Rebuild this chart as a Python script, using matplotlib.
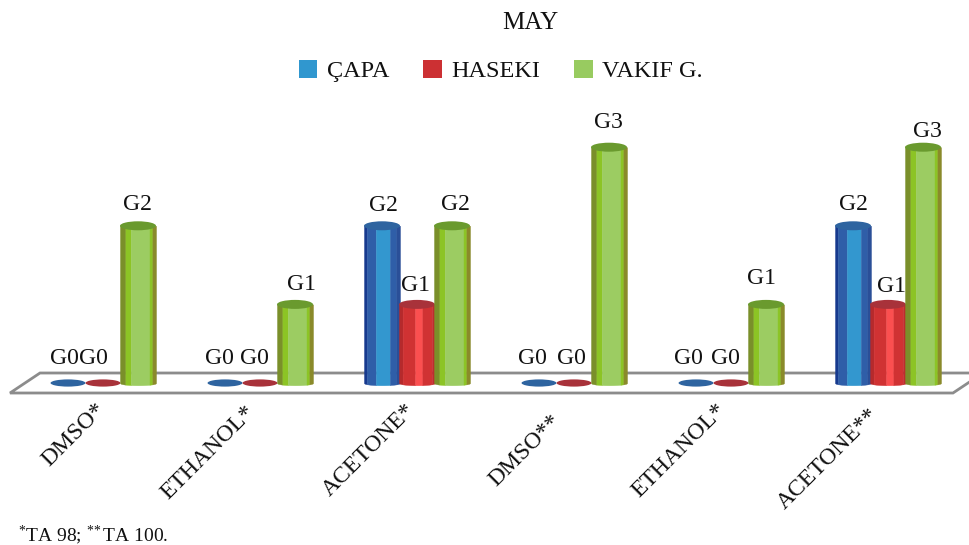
import numpy as np
import matplotlib
matplotlib.use("Agg")
import matplotlib.pyplot as plt
from matplotlib.patches import Ellipse, Patch, Polygon

plt.rcParams["font.family"] = ["Liberation Serif", "DejaVu Serif"]
plt.rcParams["mathtext.fontset"] = "custom"
plt.rcParams["mathtext.rm"] = "Liberation Serif"
plt.rcParams["mathtext.it"] = "Liberation Serif"

categories = ["DMSO*", "ETHANOL*", "ACETONE*", "DMSO**", "ETHANOL*", "ACETONE**"]
series_names = ["ÇAPA", "HASEKI", "VAKIF G."]
capa = [0, 0, 2, 0, 0, 2]
haseki = [0, 0, 1, 0, 0, 1]
vakif = [2, 1, 2, 3, 1, 3]

# 1 category = 157 px, 1 grade = 78.6 px, first HASEKI bar at x=103, grade 0 at y=383
px_x = 157.0
px_y = 78.6
bar_w = 36 / px_x
ell_h = 9 / px_y

# bands across a cylinder: start fraction, end fraction, colour
bands = {
    "ÇAPA": [(0, .08, "#173a8e"), (.08, .33, "#2f5ea8"), (.33, .72, "#3397cf"),
             (.72, .9, "#2f5ea8"), (.9, 1, "#2a4f98")],
    "HASEKI": [(0, .1, "#b52a2c"), (.1, .45, "#d03233"), (.45, .65, "#fb4f50"),
               (.65, .92, "#d03233"), (.92, 1, "#bd2c2e")],
    "VAKIF G.": [(0, .15, "#7a8f2a"), (.15, .3, "#8cc425"), (.3, .82, "#9ccc62"),
                 (.82, .9, "#8cc425"), (.9, 1, "#8a8a2a")],
}
cap_colors = {"ÇAPA": "#2e64a0", "HASEKI": "#a8323a", "VAKIF G.": "#6a9a2e"}
legend_colors = {"ÇAPA": "#3097cf", "HASEKI": "#cc3033", "VAKIF G.": "#98cb60"}

fig = plt.figure(figsize=(9.7, 5.45), dpi=100)
ax = fig.add_axes([0, 0, 1, 1])
ax.set_xlim(-103 / px_x, (970 - 103) / px_x)
ax.set_ylim(-(545 - 383) / px_y, 383 / px_y)
ax.axis("off")

# floor of the 3d plot
floor = Polygon(
    [(-93 / px_x, -10 / px_y), (-63 / px_x, 10 / px_y),
     (880 / px_x, 10 / px_y), (850 / px_x, -10 / px_y)],
    closed=True, facecolor="white", edgecolor="#8c8c8c", lw=2, zorder=1)
ax.add_patch(floor)


def cylinder(xc, value, name, z):
    half = bar_w / 2
    if value > 0:
        for a, b, col in bands[name]:
            xs = np.linspace(xc - half + a * bar_w, xc - half + b * bar_w, 12)
            t = (xs - xc) / half
            low = -ell_h / 4 * np.sqrt(np.clip(1 - t ** 2, 0, 1))
            ax.fill_between(xs, low, value, color=col, lw=.3, zorder=z)
        cap = Ellipse((xc, value), bar_w, ell_h, facecolor=cap_colors[name], edgecolor="none", zorder=z + .2)
    else:
        cap = Ellipse((xc, value), bar_w * .97, ell_h * .8, facecolor=cap_colors[name], edgecolor="none", zorder=z + .2)
    ax.add_patch(cap)


# each label sits a little off its bar, in pixels (dx, dy)
label_offsets = {
    "ÇAPA": [(-4, 24), (-6, 24), (1, 20), (-7, 24), (-8, 24), (0, 21)],
    "HASEKI": [(-10, 24), (-6, 24), (-1, 19), (-3, 24), (-6, 24), (3, 18)],
    "VAKIF G.": [(-1, 21), (6, 20), (3, 21), (-1, 25), (-4, 26), (4, 16)],
}

# end of each rotated name, in pixels from the HASEKI bar
name_offsets = [(-8, -16), (-16, -19), (-13, -17), (-24, -28), (-16, -17), (-20, -21)]

for i, cat in enumerate(categories):
    for j, (name, vals) in enumerate(zip(series_names, [capa, haseki, vakif])):
        xc = i + (j - 1) * 35 / px_x
        v = vals[i]
        cylinder(xc, v, name, 3 + j + i * 3)
        dx, dy = label_offsets[name][i]
        ax.annotate(f"G{v}", (xc, v), xytext=(dx, dy), textcoords="offset pixels",
                    ha="center", va="center", fontsize=17, color="#111111", zorder=40)
    nx, ny = name_offsets[i]
    ax.text(i + nx / px_x, ny / px_y, cat, rotation=45, rotation_mode="anchor",
            ha="right", va="top", fontsize=17, color="#111111")

fig.text(530 / 970, 1 - 23 / 545, "MAY", ha="center", va="center", fontsize=18, color="#111111")

handles = [Patch(facecolor=legend_colors[n], edgecolor="none") for n in series_names]
fig.legend(handles, series_names, loc="center", bbox_to_anchor=(501 / 970, 1 - 71 / 545), ncol=3,
           frameon=False, fontsize=17.5, handlelength=.75, handleheight=.75,
           handletextpad=.4, columnspacing=1.4, labelcolor="#111111")

fig.text(18 / 970, 1 - 535 / 545, r"$^{*}$TA 98; $^{*\!*}$TA 100.", ha="left", va="center",
         fontsize=14, color="#111111")

fig.savefig("out.png", dpi=100)
